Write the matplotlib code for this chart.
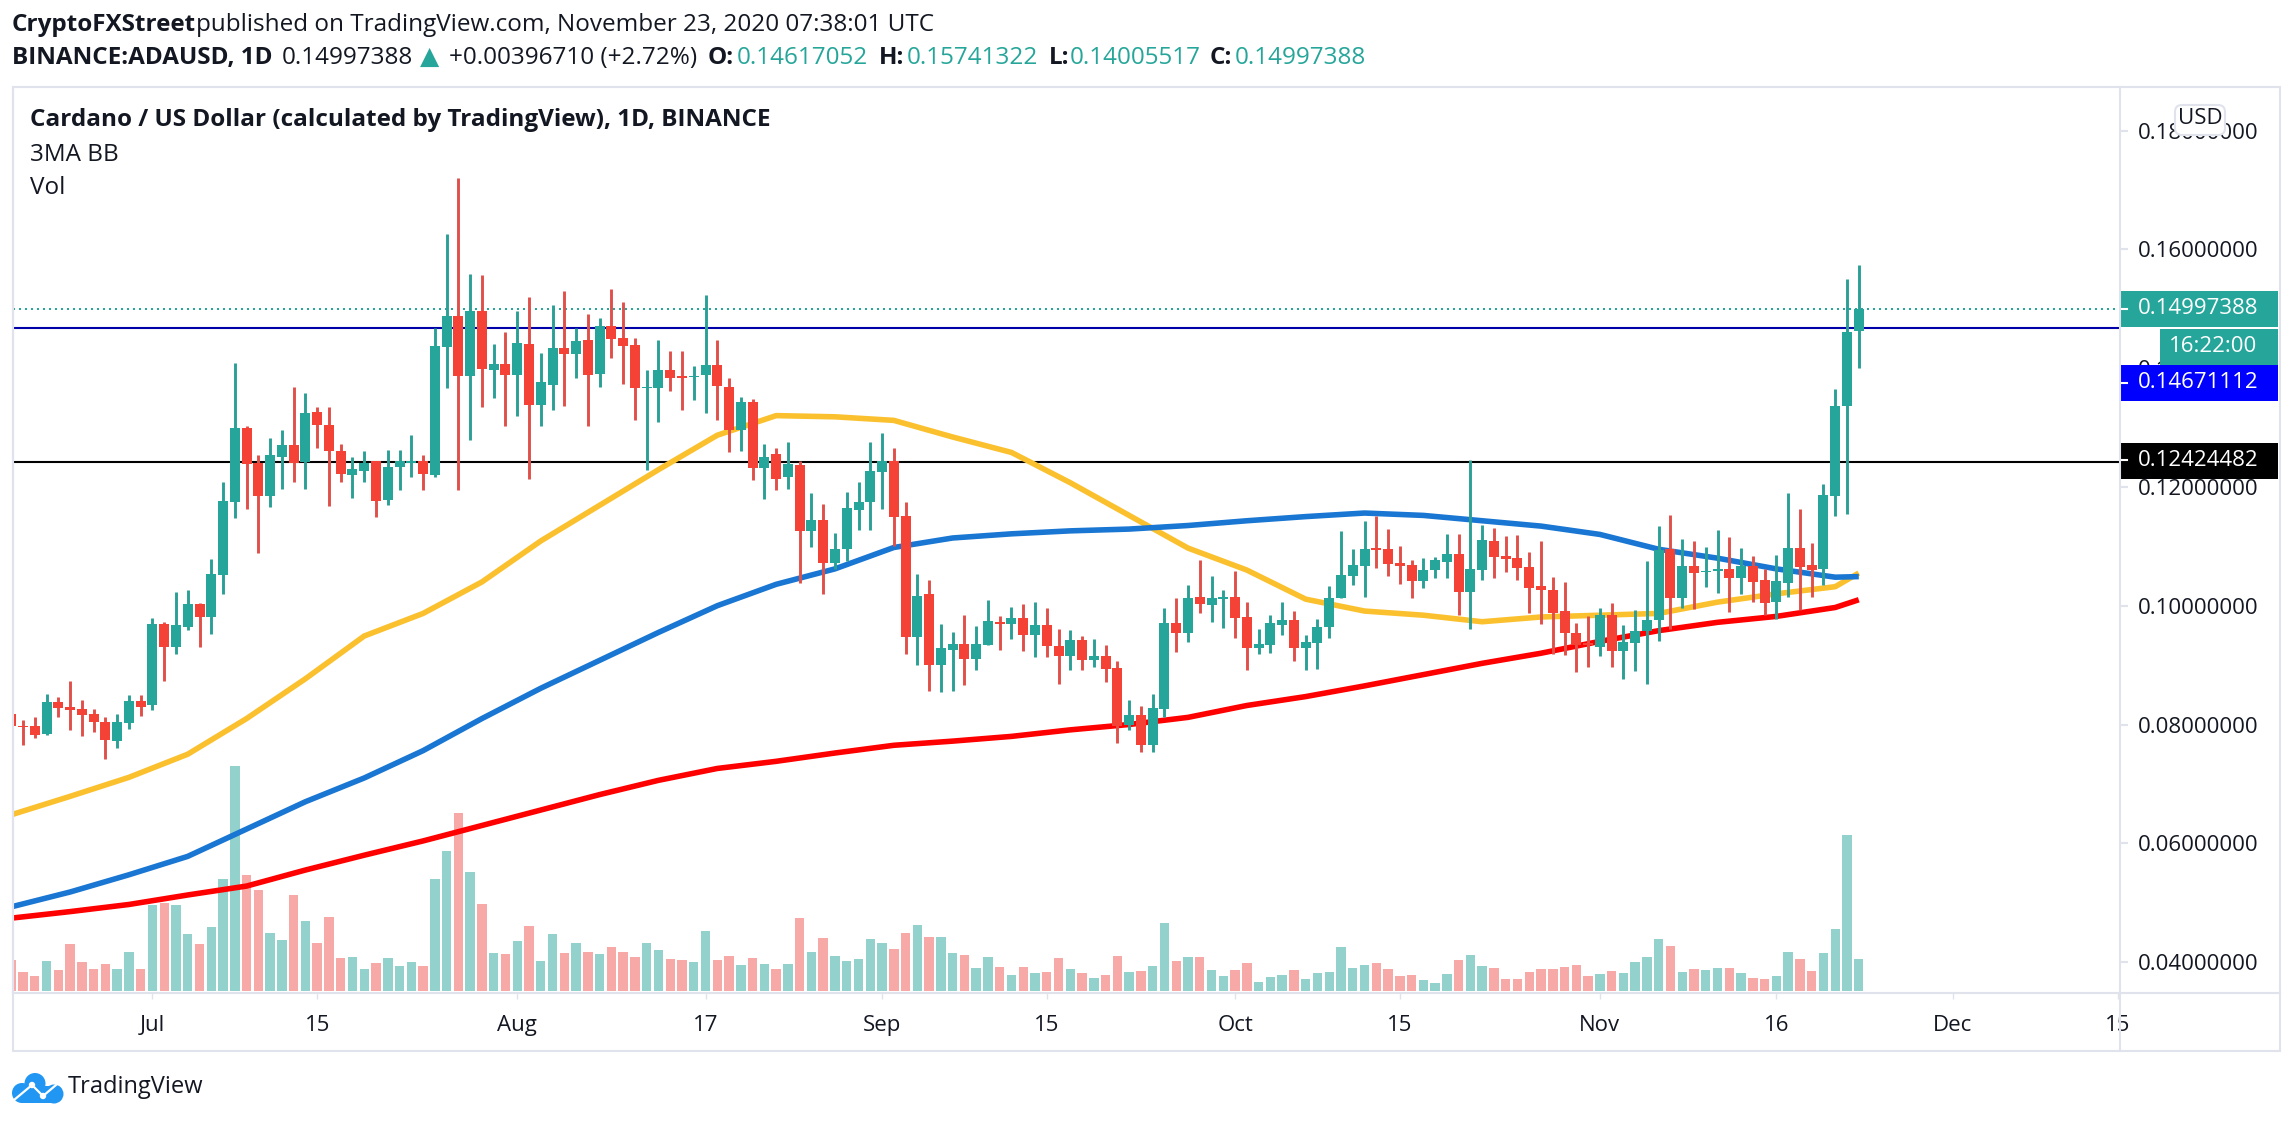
#!/usr/bin/env python
import numpy as np
import pandas as pd
import matplotlib
matplotlib.use('Agg')
import matplotlib.pyplot as plt
from matplotlib.patches import Rectangle, Circle, FancyBboxPatch
from matplotlib.lines import Line2D

plt.rcParams['font.family'] = ['Open Sans', 'DejaVu Sans']

W, H = 2294, 1124
UP = '#26a69a'
DOWN = '#f44336'
DARK = '#131722'
GRID = '#e0e3eb'

# daily candles, ADAUSD, in units of 0.0001 USD
dates = pd.date_range('2020-06-19', periods=158)
opens = np.array([817,798,797,784,838,829,826,817,805,773,
    803,840,832,969,931,964,1003,981,1052,1175,
    1300,1241,1185,1251,1270,1242,1326,1305,1260,1220,
    1227,1243,1178,1234,1240,1244,1220,1436,1487,1387,
    1496,1397,1407,1389,1441,1338,1372,1434,1424,1447,
    1390,1471,1451,1439,1366,1367,1397,1386,1385,1388,
    1406,1369,1296,1343,1231,1255,1216,1237,1125,1145,
    1072,1095,1161,1174,1225,1244,1151,948,1019,901,
    926,936,911,933,973,970,979,951,967,932,
    915,942,909,915,895,799,816,765,826,971,
    954,1015,1001,1011,1015,981,929,934,967,976,
    929,937,964,1013,1050,1067,1097,1095,1072,1068,
    1042,1060,1074,1087,1023,1060,1109,1084,1080,1065,
    1033,1026,991,954,937,930,984,924,937,957,
    976,1095,1013,1067,1057,1059,1062,1047,1067,1043,
    1006,1038,1097,1068,1062,1185,1336,1462]) / 1e4
highs = np.array([817,808,812,852,846,874,842,826,813,818,
    849,850,979,973,1023,1026,1005,1078,1208,1408,
    1302,1254,1283,1295,1369,1358,1334,1334,1273,1251,
    1260,1244,1262,1262,1287,1253,1467,1626,1720,1558,
    1556,1440,1461,1496,1519,1426,1507,1530,1467,1491,
    1485,1534,1512,1451,1397,1448,1428,1428,1403,1523,
    1448,1384,1351,1348,1272,1265,1276,1243,1189,1172,
    1122,1192,1209,1275,1290,1266,1174,1053,1044,969,
    955,985,965,1009,983,998,1003,1006,996,961,
    959,949,944,934,907,841,831,851,996,1013,
    1035,1077,1050,1026,1058,1006,961,984,1006,991,
    951,978,1033,1126,1095,1143,1151,1129,1100,1077,
    1080,1082,1121,1121,1245,1136,1131,1117,1119,1090,
    1109,1048,1040,971,983,996,1004,967,993,1075,
    1134,1153,1112,1109,1099,1127,1116,1097,1084,1062,
    1085,1190,1163,1106,1205,1364,1550,1574]) / 1e4
lows = np.array([798,765,778,782,813,790,781,787,742,760,
    793,815,824,874,918,959,930,953,1020,1147,
    1162,1088,1166,1197,1209,1197,1266,1168,1209,1181,
    1209,1150,1169,1194,1217,1194,1217,1366,1195,1279,
    1335,1349,1302,1320,1214,1302,1330,1337,1384,1302,
    1369,1417,1374,1312,1229,1310,1361,1330,1346,1324,
    1312,1258,1260,1212,1180,1194,1197,1039,1099,1019,
    1061,1075,1128,1128,1162,1101,918,900,856,854,
    856,867,892,933,925,944,923,914,914,869,
    892,891,897,872,769,790,754,754,813,922,
    939,988,973,962,946,892,919,920,951,907,
    892,893,946,1013,1035,1015,1063,1050,1037,1013,
    1030,1047,1047,984,961,1043,1047,1057,1043,988,
    969,919,917,888,897,915,897,877,890,868,
    940,961,996,994,1031,1021,989,1020,1006,984,
    978,1015,993,1015,1035,1151,1154,1401]) / 1e4
closes = np.array([798,796,782,838,828,824,816,805,774,804,
    840,830,969,930,967,1003,981,1053,1177,1300,
    1239,1184,1253,1270,1241,1324,1305,1260,1222,1230,
    1241,1177,1233,1243,1244,1222,1437,1487,1387,1496,
    1399,1407,1389,1443,1338,1377,1433,1424,1445,1389,
    1471,1449,1437,1367,1369,1397,1384,1383,1387,1406,
    1370,1296,1343,1231,1251,1214,1238,1125,1145,1072,
    1095,1164,1174,1226,1244,1150,948,1017,901,928,
    936,911,935,974,970,979,951,967,932,915,
    942,909,915,893,797,816,765,828,971,954,
    1013,1003,1013,1014,979,929,935,971,976,929,
    939,964,1013,1052,1068,1095,1094,1070,1067,1042,
    1060,1077,1087,1023,1062,1111,1082,1079,1063,1030,
    1026,988,954,934,933,984,924,939,957,976,
    1094,1013,1067,1055,1059,1061,1047,1067,1040,1004,
    1042,1097,1065,1060,1186,1336,1461,1500]) / 1e4
# volume, no axis for it so the unit is arbitrary
volume = np.array([93,57,45,90,63,141,87,66,81,66,
    117,66,257,263,258,171,141,192,336,675,
    348,303,174,153,288,210,144,222,99,102,
    66,84,99,75,87,75,336,420,534,357,
    261,114,111,150,195,90,171,114,144,117,
    111,132,117,102,144,123,96,93,87,180,
    93,105,78,99,81,66,81,219,117,159,
    105,90,96,156,144,126,174,198,162,162,
    114,108,69,102,72,48,72,54,57,99,
    66,54,39,48,105,57,60,75,204,90,
    102,102,63,45,63,84,27,42,48,63,
    36,54,57,132,69,78,84,66,45,48,
    33,24,51,93,108,75,69,36,36,57,
    66,66,72,78,45,51,60,54,87,102,
    156,135,57,66,63,69,69,54,39,36,
    45,117,96,60,114,186,468,96])

# moving averages read every 5 days
ma_days = [0,5,10,15,20,25,30,35,40,45,50,55,60,65,70,75,80,85,90,95,100,
           105,110,115,120,125,130,135,140,145,150,155,157]
ma_yellow = np.array([648,679,711,750,810,877,949,987,1040,1109,1169,1229,1287,1320,1318,
    1312,1284,1258,1207,1152,1097,1060,1011,991,984,973,981,984,987,1006,1020,1032,1055]) / 1e4
ma_blue = np.array([493,518,547,578,624,670,710,756,810,861,908,955,1000,1036,1062,
    1098,1114,1121,1126,1129,1135,1143,1150,1156,1152,1143,1134,1120,1095,1080,1062,1048,1049]) / 1e4
ma_red = np.array([474,485,497,513,528,555,580,604,630,656,682,706,726,738,752,
    765,772,780,791,800,812,832,847,865,884,903,920,940,958,972,982,997,1010]) / 1e4

level_blue = 0.14671112
level_black = 0.12424482
last_close = 0.14997388

price_ticks = [0.18, 0.16, 0.14, 0.12, 0.10, 0.08, 0.06, 0.04]
date_ticks = ['2020-07-01','2020-07-15','2020-08-01','2020-08-17','2020-09-01','2020-09-15',
              '2020-10-01','2020-10-15','2020-11-01','2020-11-16','2020-12-01','2020-12-15']
date_labels = ['Jul','15','Aug','17','Sep','15','Oct','15','Nov','16','Dec','15']

def fx(x):
    return x / W

def fy(y):
    return 1 - y / H

fig = plt.figure(figsize=(W / 100, H / 100), dpi=100, facecolor='white')

# plot area runs 13..2120 x 87..993 in pixels
rect = [fx(13), fy(993), fx(2120 - 13), (993 - 87) / H]
axv = fig.add_axes(rect, zorder=0)
ax = fig.add_axes(rect, zorder=1, sharex=axv)
ax.patch.set_visible(False)
axr = fig.add_axes([fx(2120), fy(993), fx(160), (993 - 87) / H], zorder=2)

x0 = dates[0] + pd.Timedelta(days=0.15)
x1 = dates[0] + pd.Timedelta(days=179.2)

# volume
up = closes >= opens
axv.bar(dates, volume, width=0.8, color=np.where(up, '#93d2cc', '#f7a9a7'), linewidth=0)
axv.set_ylim(-6, 2712)
axv.set_xlim(x0, x1)
axv.axis('off')

# levels
ax.axhline(level_blue, color='#0000a8', lw=1.5, zorder=1.6)
ax.axhline(level_black, color='black', lw=1.5, zorder=1.6)
ax.axhline(last_close, color=UP, lw=1.44, ls=(0, (1, 2)), zorder=1.7)

# moving averages
ma_dates = dates[ma_days]
ax.plot(ma_dates, ma_yellow, color='#fbc02d', lw=4, zorder=2, solid_capstyle='butt')
ax.plot(ma_dates, ma_red, color='#ff0000', lw=4, zorder=2.1, solid_capstyle='butt')
ax.plot(ma_dates, ma_blue, color='#1976d2', lw=4, zorder=2.2, solid_capstyle='butt')

# candles
ax.vlines(dates, lows, highs, colors=np.where(up, '#2b9f95', '#e0504a'), lw=2.1, zorder=3)
ax.bar(dates, np.abs(closes - opens), bottom=np.minimum(opens, closes), width=0.85,
       color=np.where(up, UP, DOWN), linewidth=0, zorder=4)

ax.set_ylim(0.20197 - 993 / 5940, 0.20197 - 87 / 5940)
ax.set_xlim(x0, x1)
ax.set_yticks([])
ax.set_xticks(pd.to_datetime(date_ticks))
ax.set_xticklabels(date_labels)
ax.tick_params(axis='x', direction='out', length=4.5, width=1, color=GRID, pad=11,
               labelsize=16, labelcolor=DARK)
for s in ['top', 'right']:
    ax.spines[s].set_visible(False)
for s in ['left', 'bottom']:
    ax.spines[s].set_color(GRID)
    ax.spines[s].set_linewidth(1.5)

# price scale
axr.set_ylim(ax.get_ylim())
axr.set_xlim(0, 1)
axr.set_xticks([])
axr.set_yticks(price_ticks)
axr.set_yticklabels(['%.8f' % p for p in price_ticks])
axr.tick_params(axis='y', left=True, right=False, labelleft=False, labelright=True,
                direction='in', length=6, width=1.5, color=GRID, pad=-102,
                labelsize=16, labelcolor=DARK)
for s in axr.spines.values():
    s.set_visible(False)

def price_box(x_left, y_top, y_bot, color, label, x_text):
    axr.add_patch(Rectangle((fx(x_left), fy(y_bot)), fx(2278 - x_left), (y_bot - y_top) / H,
                            transform=fig.transFigure, color=color, lw=0, zorder=5))
    axr.text(fx(x_text), fy((y_top + y_bot) / 2 - 1), label, transform=fig.transFigure,
             color='white', fontsize=16, va='center', ha='left', zorder=6)

price_box(2120, 291, 327, UP, '%.8f' % last_close, 2138)
price_box(2160, 329, 365, UP, '16:22:00', 2169)
price_box(2120, 365, 401, '#0000ff', '%.8f' % level_blue, 2138)
price_box(2120, 443, 479, 'black', '%.8f' % level_black, 2138)
for yy in [309, 383, 460]:
    axr.add_line(Line2D([fx(2120), fx(2127)], [fy(yy), fy(yy)], transform=fig.transFigure,
                         color='white', lw=1.5, zorder=7))

# USD button
axr.add_patch(FancyBboxPatch((fx(2175), fy(135)), fx(50), 30 / H,
                             boxstyle='round,pad=0,rounding_size=0.003',
                             transform=fig.transFigure, fc='white', ec=GRID, lw=1.5, zorder=8,
                             mutation_aspect=2))
axr.text(fx(2200), fy(119), 'USD', transform=fig.transFigure, color=DARK, fontsize=16,
         ha='center', va='center', zorder=9)

# outer frame
fig.add_artist(Rectangle((fx(13), fy(1050.5)), fx(2280 - 13), (1050.5 - 87) / H, fill=False,
                         ec=GRID, lw=1.5, transform=fig.transFigure, zorder=10))
fig.add_artist(Line2D([fx(2120), fx(2120)], [fy(87), fy(1050.5)], color=GRID, lw=1.5, zorder=10))
fig.add_artist(Line2D([fx(2120), fx(2280)], [fy(993), fy(993)], color=GRID, lw=1.5, zorder=10))

# header
def label(x, y, s, color=DARK, weight='normal', size=17.5, **kw):
    fig.text(fx(x), fy(y), s, color=color, fontweight=weight, fontsize=size, va='center', **kw)

label(12, 25, 'CryptoFXStreet', weight='bold')
label(196, 25, 'published on TradingView.com, November 23, 2020 07:38:01 UTC')
label(12, 58, 'BINANCE:ADAUSD, 1D', weight='bold')
label(282, 58, '0.14997388')
label(420, 57, '▲', color=UP, size=18, family='DejaVu Sans')
label(449, 58, '+0.00396710 (+2.72%)')
label(708, 58, 'O:', weight='bold')
label(737, 58, '0.14617052', color=UP)
label(879, 58, 'H:', weight='bold')
label(907, 58, '0.15741322', color=UP)
label(1049, 58, 'L:', weight='bold')
label(1070, 58, '0.14005517', color=UP)
label(1210, 58, 'C:', weight='bold')
label(1235, 58, '0.14997388', color=UP)

# legend block
label(30, 120, 'Cardano / US Dollar (calculated by TradingView), 1D, BINANCE', weight='bold', zorder=11)
label(30, 155, '3MA BB', zorder=11)
label(30, 188, 'Vol', zorder=11)

# logo
axl = fig.add_axes([fx(0), fy(1115), fx(90), 55 / H], zorder=3)
axl.set_xlim(0, 90)
axl.set_ylim(1115, 1060)
axl.axis('off')
cloud = '#2196f3'
for cx, cy, r in [(35, 1083.5, 10.5), (22, 1093, 10), (54, 1094, 9.5)]:
    axl.add_patch(Circle((cx, cy), r, color=cloud, lw=0))
axl.add_patch(Rectangle((22, 1086), 32, 17, color=cloud, lw=0))
axl.plot([14, 32, 43, 56], [1100, 1085, 1096, 1085], color='white', lw=1.6)
axl.add_patch(Circle((32, 1085), 3.2, color='white', lw=0, zorder=4))
axl.add_patch(Circle((43, 1096), 3.2, color='white', lw=0, zorder=4))
label(68, 1087, 'TradingView', size=17)

fig.savefig('out.png', dpi=100)
